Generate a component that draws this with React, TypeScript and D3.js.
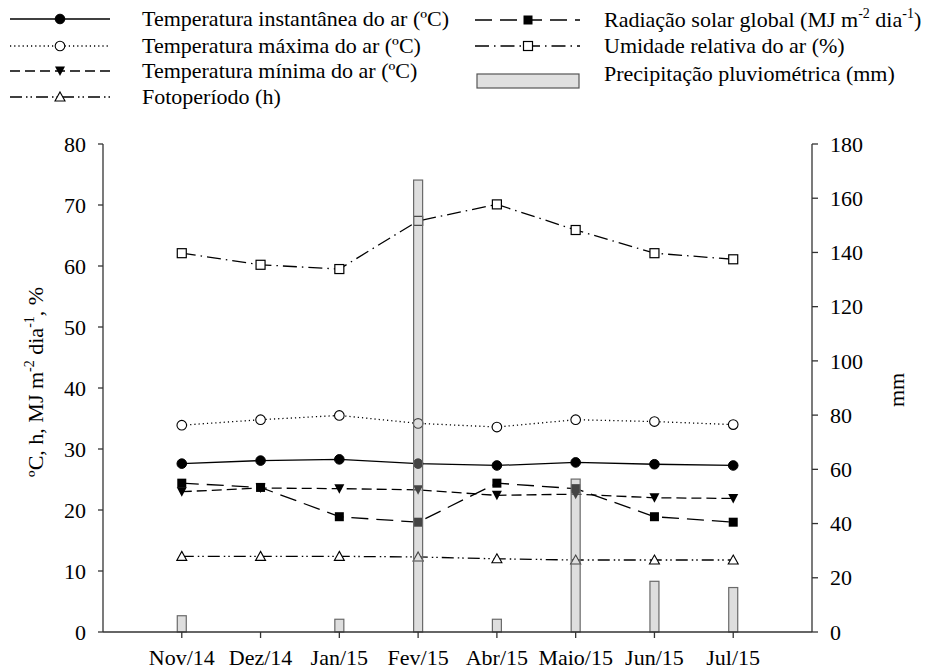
import React from "react";
import * as d3 from "d3";

// Monthly climate series
const months = ["Nov/14", "Dez/14", "Jan/15", "Fev/15", "Abr/15", "Maio/15", "Jun/15", "Jul/15"];
const tempInst = [27.6, 28.1, 28.3, 27.6, 27.3, 27.8, 27.5, 27.3];
const tempMax = [33.9, 34.8, 35.5, 34.2, 33.6, 34.8, 34.5, 34.0];
const tempMin = [23.0, 23.6, 23.5, 23.3, 22.4, 22.6, 22.0, 21.9];
const fotoperiodo = [12.4, 12.4, 12.4, 12.3, 12.0, 11.8, 11.8, 11.8];
const radiacao = [24.4, 23.7, 18.9, 18.0, 24.4, 23.5, 18.9, 18.0];
const umidade = [62.1, 60.2, 59.5, 67.4, 70.1, 65.9, 62.1, 61.1];
const precipitacao = [6.0, 0, 4.7, 166.7, 4.7, 56.4, 18.7, 16.4];

const leftTicks = [0, 10, 20, 30, 40, 50, 60, 70, 80];
const rightTicks = [0, 20, 40, 60, 80, 100, 120, 140, 160, 180];

const FONT = "'Liberation Serif', 'Times New Roman', serif";
const FS = 22;
const SUP_FS = 14;
const SUP_DY = 9;

type MarkerKind = "circleFilled" | "circleOpen" | "triDownFilled" | "triUpOpen" | "squareFilled" | "squareOpen";

const Marker = ({ kind, x, y }: { kind: MarkerKind; x: number; y: number }) => {
  switch (kind) {
    case "circleFilled":
      return <circle cx={x} cy={y} r={4.8} fill="#000" stroke="#000" strokeWidth={1} />;
    case "circleOpen":
      return <circle cx={x} cy={y} r={4.8} fill="#fff" stroke="#000" strokeWidth={1.1} />;
    case "triDownFilled":
      return <path d={`M${x - 5},${y - 4.5}L${x + 5},${y - 4.5}L${x},${y + 5}Z`} fill="#000" />;
    case "triUpOpen":
      return <path d={`M${x},${y - 5}L${x + 5},${y + 4}L${x - 5},${y + 4}Z`} fill="#fff" stroke="#000" strokeWidth={1.1} />;
    case "squareFilled":
      return <rect x={x - 4.5} y={y - 4.5} width={9} height={9} fill="#000" />;
    case "squareOpen":
      return <rect x={x - 4.5} y={y - 4.5} width={9} height={9} fill="#fff" stroke="#000" strokeWidth={1.2} />;
  }
  return null;
};

interface Series {
  name: string;
  values: number[];
  dash: string;
  marker: MarkerKind;
}

const seriesLeft: Series[] = [
  { name: "inst", values: tempInst, dash: "", marker: "circleFilled" },
  { name: "max", values: tempMax, dash: "1.2,3", marker: "circleOpen" },
  { name: "min", values: tempMin, dash: "10,5", marker: "triDownFilled" },
  { name: "foto", values: fotoperiodo, dash: "12,4,1.5,3,1.5,4", marker: "triUpOpen" },
  { name: "rad", values: radiacao, dash: "17,8", marker: "squareFilled" },
  { name: "umid", values: umidade, dash: "14,5,1.5,5", marker: "squareOpen" },
];

// Text made of plain and superscript pieces
type Piece = { t: string; sup?: boolean };

const renderPieces = (pieces: Piece[]) => {
  let shifted = false;
  return pieces.map((p, i) => {
    let dy = 0;
    if (p.sup && !shifted) {
      dy = -SUP_DY;
      shifted = true;
    } else if (!p.sup && shifted) {
      dy = SUP_DY;
      shifted = false;
    }
    return (
      <tspan key={i} dy={dy || undefined} fontSize={p.sup ? SUP_FS : undefined}>
        {p.t}
      </tspan>
    );
  });
};

const radLabel: Piece[] = [
  { t: "Radiação solar global (MJ m" },
  { t: "-2", sup: true },
  { t: " dia" },
  { t: "-1", sup: true },
  { t: ")" },
];

const yLabel: Piece[] = [
  { t: "ºC, h, MJ m" },
  { t: "-2", sup: true },
  { t: " dia" },
  { t: "-1", sup: true },
  { t: ", %" },
];

export default function App() {
  const W = 928;
  const H = 671;
  const x0 = 103;
  const x1 = 812;
  const yBottom = 632;
  const yTop = 144;

  const x = d3.scalePoint<string>().domain(months).range([x0, x1]).padding(1);
  const yL = d3.scaleLinear().domain([0, 80]).range([yBottom, yTop]);
  const yR = d3.scaleLinear().domain([0, 180]).range([yBottom, yTop]);
  const barW = 9;

  const line = d3
    .line<number>()
    .x((_, i) => x(months[i]) as number)
    .y((d) => yL(d));

  const legendLeft: { s: Series; label: Piece[]; y: number }[] = [
    { s: seriesLeft[0], label: [{ t: "Temperatura instantânea do ar (ºC)" }], y: 19 },
    { s: seriesLeft[1], label: [{ t: "Temperatura máxima do ar (ºC)" }], y: 46 },
    { s: seriesLeft[2], label: [{ t: "Temperatura mínima do ar (ºC)" }], y: 71 },
    { s: seriesLeft[3], label: [{ t: "Fotoperíodo (h)" }], y: 97 },
  ];

  const legendRight: { s: Series; label: Piece[]; y: number }[] = [
    { s: seriesLeft[4], label: radLabel, y: 20 },
    { s: seriesLeft[5], label: [{ t: "Umidade relativa do ar (%)" }], y: 46 },
  ];

  return (
    <svg width={W} height={H} style={{ display: "block", position: "absolute", left: 0, top: 0, background: "#fff" }} fontFamily={FONT}>
      <rect x={0} y={0} width={W} height={H} fill="#fff" />

      {/* Legend, left column */}
      {legendLeft.map(({ s, label, y }) => (
        <g key={s.name}>
          <line x1={10} x2={110} y1={y} y2={y} stroke="#000" strokeWidth={1.3} strokeDasharray={s.dash || undefined} />
          <Marker kind={s.marker} x={60} y={y} />
          <text x={142} y={y + 7} fontSize={FS} fill="#000">{renderPieces(label)}</text>
        </g>
      ))}

      {/* Legend, right column */}
      {legendRight.map(({ s, label, y }) => (
        <g key={s.name}>
          <line x1={475} x2={580} y1={y} y2={y} stroke="#000" strokeWidth={1.3} strokeDasharray={s.dash || undefined} />
          <Marker kind={s.marker} x={528} y={y} />
          <text x={604} y={y + 7} fontSize={FS} fill="#000">{renderPieces(label)}</text>
        </g>
      ))}
      <rect x={477} y={74} width={102} height={14} fill="#e0e0e0" stroke="#555" strokeWidth={1.2} />
      <text x={604} y={81} fontSize={FS} fill="#000">Precipitação pluviométrica (mm)</text>

      {/* Lines and markers */}
      {seriesLeft.map((s) => (
        <g key={s.name}>
          <path d={line(s.values) || ""} fill="none" stroke="#000" strokeWidth={1.3} strokeDasharray={s.dash || undefined} />
          {s.values.map((v, i) => (
            <Marker key={i} kind={s.marker} x={x(months[i]) as number} y={yL(v)} />
          ))}
        </g>
      ))}

      {/* Precipitation bars on the right axis */}
      {precipitacao.map((v, i) =>
        v > 0 ? (
          <rect
            key={months[i]}
            x={(x(months[i]) as number) - barW / 2}
            y={yR(v)}
            width={barW}
            height={yBottom - yR(v)}
            fill="#adadad"
            fillOpacity={0.4}
            stroke="#6a6a6a"
            strokeWidth={1.2}
          />
        ) : null
      )}

      {/* Left axis */}
      <line x1={x0} x2={x0} y1={yTop} y2={yBottom} stroke="#333" strokeWidth={1.3} />
      {leftTicks.map((t) => (
        <g key={t}>
          <line x1={x0 - 5} x2={x0} y1={yL(t)} y2={yL(t)} stroke="#333" strokeWidth={1.3} />
          <text x={86} y={yL(t)} dy="0.35em" textAnchor="end" fontSize={FS} fill="#000">{t}</text>
        </g>
      ))}

      {/* Right axis */}
      <line x1={x1} x2={x1} y1={yTop} y2={yBottom} stroke="#333" strokeWidth={1.3} />
      {rightTicks.map((t) => (
        <g key={t}>
          <line x1={x1} x2={x1 + 6} y1={yR(t)} y2={yR(t)} stroke="#333" strokeWidth={1.3} />
          <text x={830} y={yR(t)} dy="0.35em" textAnchor="start" fontSize={FS} fill="#000">{t}</text>
        </g>
      ))}

      {/* Bottom axis */}
      <line x1={x0} x2={x1} y1={yBottom} y2={yBottom} stroke="#333" strokeWidth={1.3} />
      {months.map((m) => (
        <g key={m}>
          <line x1={x(m) as number} x2={x(m) as number} y1={yBottom} y2={yBottom + 6} stroke="#333" strokeWidth={1.3} />
          <text x={x(m) as number} y={665} textAnchor="middle" fontSize={FS} fill="#000">{m}</text>
        </g>
      ))}

      {/* Axis titles */}
      <text transform={`translate(43,${(yTop + yBottom) / 2 - 6}) rotate(-90)`} textAnchor="middle" fontSize={FS} fill="#000">
        {renderPieces(yLabel)}
      </text>
      <text transform={`translate(904,390) rotate(-90)`} textAnchor="middle" fontSize={FS} fill="#000">mm</text>
    </svg>
  );
}
